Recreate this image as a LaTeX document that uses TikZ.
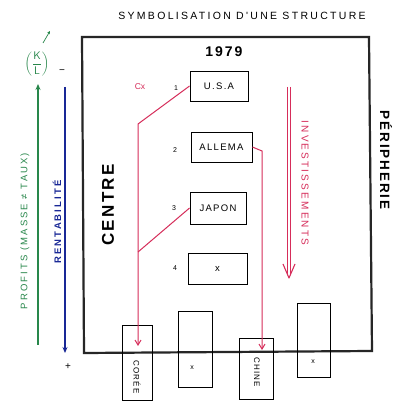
\documentclass[tikz,border=0pt]{standalone}
\usepackage{fontspec}
\setmainfont{Liberation Sans}
\newfontfamily\hand[LetterSpace=14]{Liberation Sans}
\newfontfamily\handw[LetterSpace=22]{Liberation Sans}
\usetikzlibrary{arrows.meta}
\definecolor{pinkred}{RGB}{214,45,90}
\definecolor{grn}{RGB}{40,135,75}
\definecolor{blu}{RGB}{25,40,150}
\tikzset{
  cbox/.style={draw=black, line width=0.9pt, inner sep=0pt},
  lbl/.style={font=\hand\fontsize{9.5}{10}\selectfont, inner sep=0pt},
  num/.style={font=\fontsize{7}{8}\selectfont, inner sep=0pt},
  pinkline/.style={draw=pinkred, line width=1pt},
  frame/.style={draw=black!85, line width=2.2pt},
}
\begin{document}
\begin{tikzpicture}[x=1pt,y=-1pt]
\useasboundingbox (0,0) rectangle (416,401);
\fill[white] (0,0) rectangle (416,401);

% title
\node[font=\handw\fontsize{10.5}{12}\selectfont, inner sep=0pt] (title) at (242,16) {SYMBOLISATION D'UNE STRUCTURE};

% main frame
\coordinate (tl) at (82,37);
\coordinate (tr) at (369,37);
\coordinate (br) at (372,351);
\coordinate (bl) at (84,353);
\draw[frame, line join=miter] (bl) -- (tl) -- (tr) -- (br) -- cycle;

\node[font=\hand\bfseries\fontsize{14}{16}\selectfont, inner sep=0pt] (year) at (224,52) {1979};

% centre boxes
\node[cbox, minimum width=58pt, minimum height=30pt, lbl] (usa) at (219,86) {U.S.A};
\node[cbox, minimum width=61pt, minimum height=30pt, lbl] (all) at (221.5,147) {ALLEMA};
\node[cbox, minimum width=56pt, minimum height=32pt, lbl] (jap) at (218,208) {JAPON};
\node[cbox, minimum width=59pt, minimum height=31pt, lbl] (xc) at (217.5,268.5) {x};

\node[num] (n1) at (176,88) {1};
\node[num] (n2) at (175,150) {2};
\node[num] (n3) at (174,208) {3};
\node[num] (n4) at (175,268) {4};
\node[font=\fontsize{8.5}{9}\selectfont, text=pinkred, inner sep=0pt] (cx) at (140,87) {Cx};

% peripheral boxes
\node[cbox, minimum width=30pt, minimum height=75pt] (cor) at (137,362.5) {};
\node[cbox, minimum width=34pt, minimum height=76pt] (p2) at (195,349) {};
\node[cbox, minimum width=34pt, minimum height=61pt] (chi) at (256,368.5) {};
\node[cbox, minimum width=33pt, minimum height=74pt] (p4) at (313.5,340) {};
\node[lbl, rotate=-90, font=\hand\fontsize{8}{9}\selectfont] (corl) at (137,377) {CORÉE};
\node[lbl, rotate=-90, font=\hand\fontsize{8}{9}\selectfont] (chil) at (257,372) {CHINE};
\node[num] (x2) at (192,368) {x};
\node[num] (x4) at (313,362) {x};

% pink connectors
\coordinate (a1) at (138,124);
\coordinate (a2) at (138,252);
\coordinate (ae) at (138,346);
\coordinate (b1) at (262,151);
\coordinate (be) at (262,350);
\draw[pinkline, -{Straight Barb[length=5pt,width=6pt]}] (usa.west) -- (a1) -- (ae);
\draw[pinkline] (jap.west) -- (a2);
\draw[pinkline, -{Straight Barb[length=5pt,width=6pt]}] (all.east) -- (b1) -- (be);

% investissements arrow
\coordinate (i1) at (287.6,87);
\coordinate (i2) at (287.6,274);
\coordinate (i3) at (290.6,87);
\coordinate (i4) at (290.6,274);
\coordinate (ih) at (289,278);
\coordinate (il) at (283,264);
\coordinate (ir) at (295,264);
\draw[pinkline, line width=0.9pt] (i1) -- (i2) (i3) -- (i4);
\draw[pinkline, line width=1.1pt, line join=round] (il) -- (ih) -- (ir);
\node[rotate=-90, text=pinkred, font=\handw\fontsize{10}{10}\selectfont, inner sep=0pt] (inv) at (305,183) {INVESTISSEMENTS};

% side labels
\node[rotate=-90, font=\hand\bfseries\fontsize{13.5}{14}\selectfont, inner sep=0pt] (peri) at (386,160) {PÉRIPHERIE};
\node[rotate=90, font=\hand\bfseries\fontsize{17}{18}\selectfont, inner sep=0pt] (centre) at (108,205) {CENTRE};

% left axes
\coordinate (g1) at (38,345);
\coordinate (g2) at (38,84);
\draw[draw=grn, line width=1.6pt, -{Stealth[length=6pt,width=5pt]}] (g1) -- (g2);
\node[rotate=90, text=grn, font=\handw\fontsize{9.5}{10}\selectfont, inner sep=0pt] (prof) at (25,231) {PROFITS (MASSE ≠ TAUX)};
\coordinate (u1) at (65,87);
\coordinate (u2) at (65,353);
\draw[draw=blu, line width=1.6pt, -{Stealth[length=6pt,width=5pt]}] (u1) -- (u2);
\node[rotate=90, text=blu, font=\handw\bfseries\fontsize{9.5}{10}\selectfont, inner sep=0pt] (rent) at (57,222) {RENTABILITÉ};

\node[text=grn, inner sep=0pt, font=\fontsize{11}{12}\selectfont] (kl) at (37,64) {$\left(\displaystyle\frac{\mathsf{K}}{\mathsf{L}}\right)$};
\coordinate (k1) at (43,43);
\coordinate (k2) at (50,31);
\draw[draw=grn, line width=0.7pt, -{Stealth[length=3pt,width=3pt]}] (k1) -- (k2);
\node[font=\fontsize{10}{10}\selectfont, inner sep=0pt] (minus) at (62,72) {−};
\node[font=\fontsize{10}{10}\selectfont, inner sep=0pt] (plus) at (68,367) {+};
\end{tikzpicture}
\end{document}
